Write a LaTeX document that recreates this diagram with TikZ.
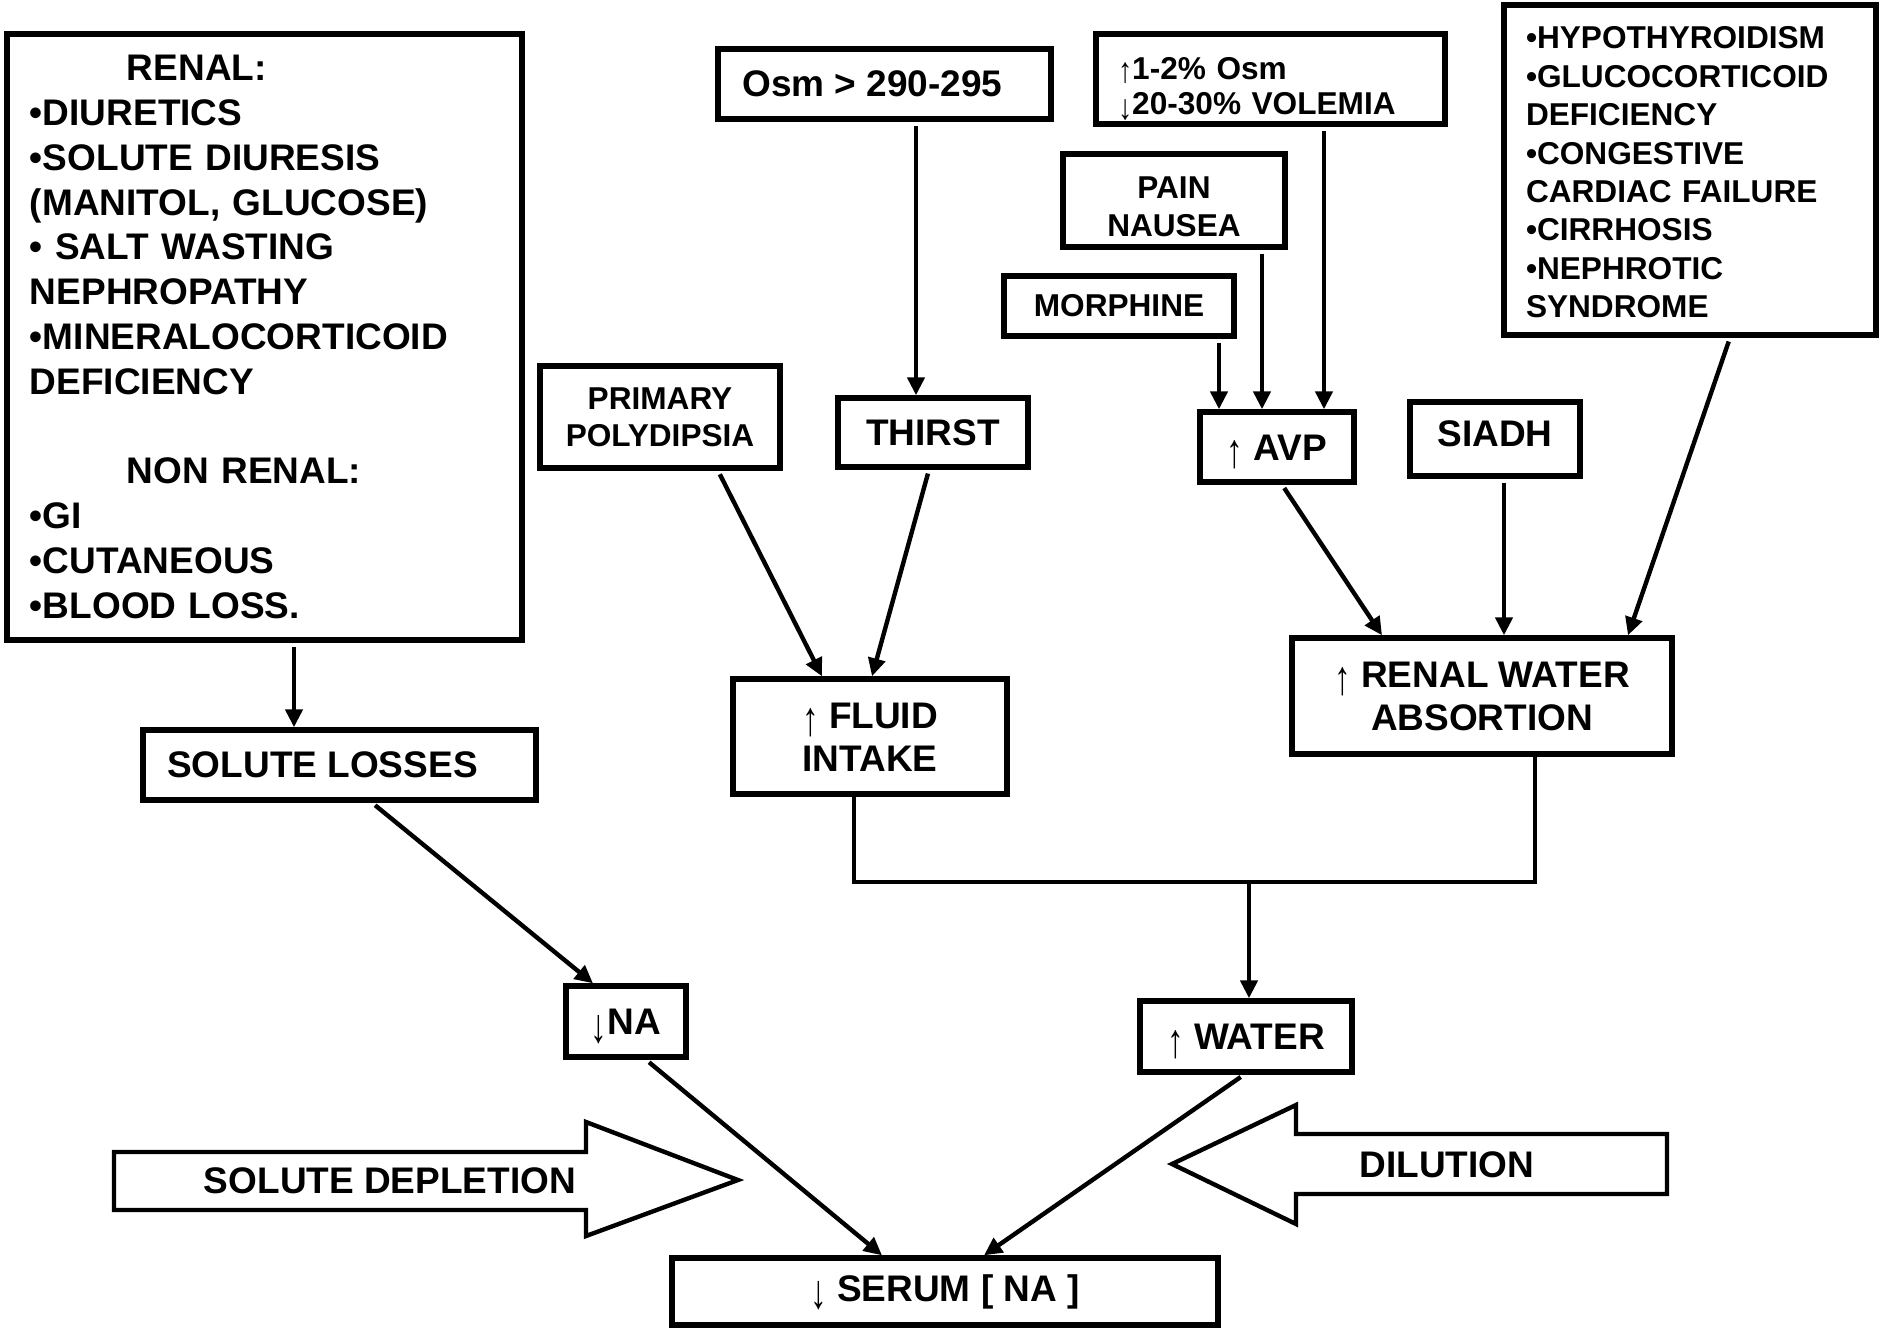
\documentclass[tikz,border=0pt]{standalone}
\usepackage{fontspec}
\usepackage{graphicx}
\setmainfont{Liberation Sans}
\usetikzlibrary{arrows.meta,calc}
\newcommand{\uparr}{\raisebox{-0.2em}[0.72em][0pt]{\scalebox{0.9}[1.3]{\mdseries ↑}}}
\newcommand{\dnarr}{\raisebox{-0.2em}[0.72em][0pt]{\scalebox{0.9}[1.3]{\mdseries ↓}}}
\newcommand{\uparrs}{\raisebox{-0.1em}[0.72em][0pt]{\scalebox{0.9}[1.12]{\mdseries ↑}}}
\newcommand{\dnarrs}{\raisebox{-0.16em}[0.72em][0pt]{\scalebox{0.9}[1.12]{\mdseries ↓}}}
\begin{document}
\begin{tikzpicture}[x=0.5pt,y=-0.5pt,
  box/.style={draw,line width=2.7pt,inner sep=0pt,align=center,font=\bfseries\fontsize{18.5}{22.4}\selectfont},
  sbox/.style={box,font=\bfseries\fontsize{15.8}{19}\selectfont},
  lbl/.style={inner sep=0pt,font=\bfseries\fontsize{18.5}{22.4}\selectfont},
  slbl/.style={inner sep=0pt,font=\bfseries\fontsize{15.8}{19}\selectfont},
  conn/.style={line width=2.2pt,shorten <=2pt,-{Triangle[length=9pt,width=8.5pt]}},
  plain/.style={line width=2.2pt},
  bigarrow/.style={draw,line width=2.2pt,line join=miter}
]
\useasboundingbox (0,0) rectangle (1881,1340);

% boxes
\node[box,align=left,inner xsep=11.5pt,text width=234.5pt,minimum height=303pt] (left) at (264.5,337) {%
\hspace*{48.5pt}RENAL:\\
•DIURETICS\\
•SOLUTE DIURESIS\\
(MANITOL, GLUCOSE)\\
• SALT WASTING\\
NEPHROPATHY\\
•MINERALOCORTICOID\\
DEFICIENCY\\[22.4pt]
\hspace*{48.5pt}NON RENAL:\\
•GI\\
•CUTANEOUS\\
•BLOOD LOSS.};

\node[box,minimum width=166.5pt,minimum height=35pt] (osm) at (884.5,84) {Osm > 290-295\hspace*{12pt}};

\node[box,minimum width=174.5pt,minimum height=45pt] (vol) at (1270.5,79) {};
\node[slbl,align=left,text width=152.5pt,font=\bfseries\fontsize{15.8}{17.5}\selectfont] (volt) at ([yshift=-3.2pt]vol.center) {\uparrs1-2\% Osm\\\dnarrs20-30\% VOLEMIA};

\node[box,minimum width=186pt,minimum height=165pt] (hypo) at (1690,170) {};
\node[slbl,align=left,text width=164pt,font=\bfseries\fontsize{15.8}{19.2}\selectfont] (hypot) at ([yshift=-1.2pt]hypo.center) {%
•HYPOTHYROIDISM\\
•GLUCOCORTICOID\\
DEFICIENCY\\
•CONGESTIVE\\
CARDIAC FAILURE\\
•CIRRHOSIS\\
•NEPHROTIC\\
SYNDROME};

\node[box,minimum width=111pt,minimum height=46.5pt] (pain) at (1174,200.5) {};
\node[slbl,align=center] (paint) at ([yshift=-3pt]pain.center) {PAIN\\NAUSEA};
\node[sbox,minimum width=115pt,minimum height=30pt] (morph) at (1119,306) {MORPHINE};
\node[sbox,minimum width=120pt,minimum height=51pt,font=\bfseries\fontsize{15.8}{18.5}\selectfont] (prim) at (660,417) {PRIMARY\\POLYDIPSIA};
\node[box,minimum width=95pt,minimum height=34.5pt] (thirst) at (933,432.5) {THIRST};
\node[box,minimum width=77pt,minimum height=35pt] (avp) at (1277,447) {\uparr\ AVP};
\node[box,minimum width=85pt,minimum height=37pt] (siadh) at (1495,439) {};
\node[lbl] (siadht) at ([yshift=2.5pt]siadh.center) {SIADH};
\node[box,minimum width=190pt,minimum height=58pt,font=\bfseries\fontsize{18.5}{21.6}\selectfont] (renal) at (1482,696) {\uparr\ RENAL WATER\\ABSORTION};
\node[box,minimum width=196.5pt,minimum height=35pt] (loss) at (339.5,765) {SOLUTE LOSSES\hspace*{17pt}};
\node[box,minimum width=137pt,minimum height=57.5pt,font=\bfseries\fontsize{18.5}{21.6}\selectfont] (fluid) at (870,736.5) {\uparr\ FLUID\\INTAKE};
\node[box,minimum width=60pt,minimum height=35.5pt] (na) at (626,1021.5) {\dnarr NA};
\node[box,minimum width=106pt,minimum height=35.5pt] (water) at (1246,1036.5) {\uparr\ WATER};
\node[box,minimum width=273pt,minimum height=33.5pt] (serum) at (945,1291.5) {\dnarr\ SERUM [ NA ]};

% big hollow arrows
\draw[bigarrow] (114,1152) -- (586,1152) -- (586,1122) -- (738,1180) -- (586,1236) -- (586,1210) -- (114,1210) -- cycle;
\node[lbl] (sdep) at (390,1181) {SOLUTE DEPLETION};
\draw[bigarrow] (1667,1134) -- (1296,1134) -- (1296,1105) -- (1172,1164) -- (1296,1224) -- (1296,1194) -- (1667,1194) -- cycle;
\node[lbl] (dil) at (1447,1165) {DILUTION};

% helper x positions
\coordinate (xa) at (294,0);
\coordinate (xb) at (916,0);
\coordinate (xc) at (1324,0);
\coordinate (xd) at (1262,0);
\coordinate (xe) at (1219,0);
\coordinate (xf1) at (718,0); \coordinate (xf2) at (822,0);
\coordinate (xg1) at (929,0); \coordinate (xg2) at (872,0);
\coordinate (xh1) at (1282,0); \coordinate (xh2) at (1382,0);
\coordinate (xi) at (1504,0);
\coordinate (xj1) at (1730,0); \coordinate (xj2) at (1628,0);
\coordinate (xk1) at (372,0); \coordinate (xk2) at (593,0);
\coordinate (xl1) at (646,0); \coordinate (xl2) at (882,0);
\coordinate (xm1) at (1244,0); \coordinate (xm2) at (984,0);
\coordinate (jL) at (854,882);
\coordinate (jR) at (1535,882);
\coordinate (jn) at (1249,882);

% connectors
\draw[conn] (left.south -| xa) -- (loss.north -| xa);
\draw[conn] (osm.south -| xb) -- (thirst.north -| xb);
\draw[conn] (vol.south -| xc) -- (avp.north -| xc);
\draw[conn] (pain.south -| xd) -- (avp.north -| xd);
\draw[conn] (morph.south -| xe) -- (avp.north -| xe);
\draw[conn] (prim.south -| xf1) -- (fluid.north -| xf2);
\draw[conn] (thirst.south -| xg1) -- (fluid.north -| xg2);
\draw[conn] (avp.south -| xh1) -- (renal.north -| xh2);
\draw[conn] (siadh.south -| xi) -- (renal.north -| xi);
\draw[conn] (hypo.south -| xj1) -- (renal.north -| xj2);
\draw[conn] (loss.south -| xk1) -- (na.north -| xk2);
\draw[plain] (fluid.south -| jL) -- (jL) -- (jR) -- (renal.south -| jR);
\draw[conn,shorten <=0pt] (jn) -- (water.north -| jn);
\draw[conn] (na.south -| xl1) -- (serum.north -| xl2);
\draw[conn] (water.south -| xm1) -- (serum.north -| xm2);
\end{tikzpicture}
\end{document}
